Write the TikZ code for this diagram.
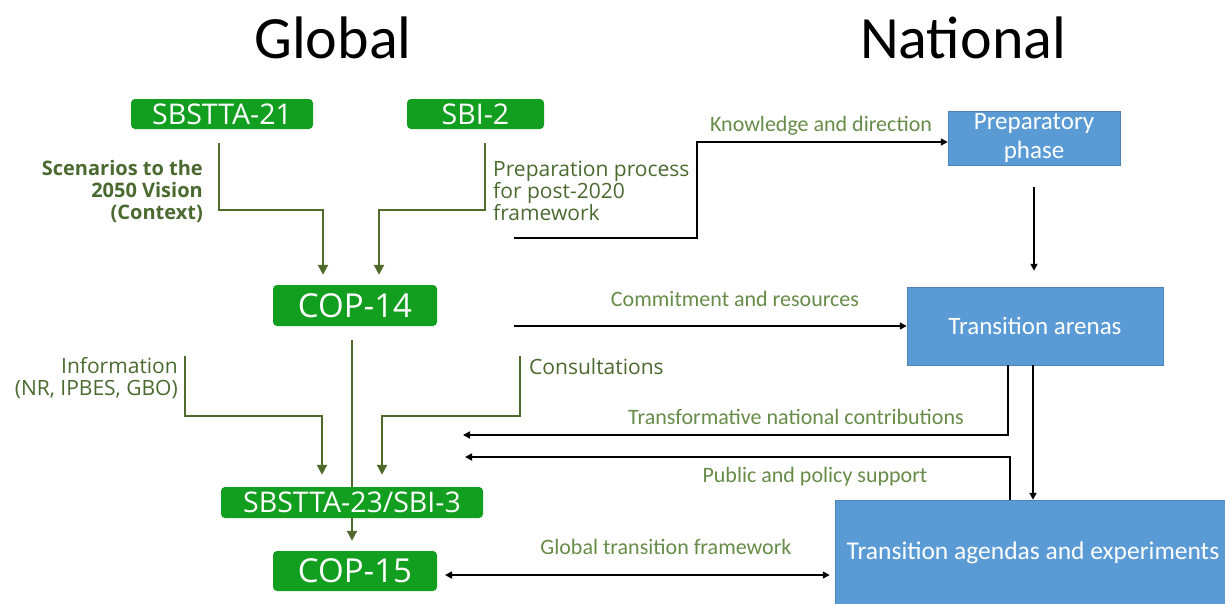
\documentclass[tikz,border=0pt]{standalone}
\usepackage{fontspec}
\setmainfont{Carlito}
\newfontfamily\segoe{Open Sans}
\usetikzlibrary{arrows.meta}
\definecolor{boxgreen}{HTML}{129E1F}
\definecolor{linegreen}{HTML}{4E6B2C}
\definecolor{labelgreen}{HTML}{4A6A30}
\definecolor{flowgreen}{HTML}{668C48}
\definecolor{boxblue}{HTML}{5B9BD5}
\tikzset{
  gbox/.style={fill=boxgreen, rounded corners=4pt, text=white, inner sep=0pt},
  bbox/.style={fill=boxblue, draw=boxblue!85!black, line width=0.5pt, text=white, inner sep=0pt, align=center},
  gline/.style={draw=linegreen, line width=2pt},
  garrow/.style={gline, -{Triangle[length=10pt,width=10pt]}},
  barrow/.style={draw=black, line width=1.6pt, -{Triangle[length=7pt,width=7pt]}},
  glabel/.style={text=labelgreen, inner sep=0pt, font=\segoe\fontsize{21}{22}\selectfont},
  flabel/.style={text=flowgreen, inner sep=0pt, font=\fontsize{22}{22}\selectfont},
  boxtext/.style={font=\segoe\fontsize{28.5}{28.5}\selectfont},
  boxtextbig/.style={font=\segoe\fontsize{33}{33}\selectfont},
  title/.style={inner sep=0pt, font=\fontsize{60}{60}\selectfont}
}
\begin{document}
\begin{tikzpicture}[x=1pt,y=-1pt]
\useasboundingbox (0,0) rectangle (1225,603);

% headings
\node[title] (tglobal) at (333,38) {Global};
\node[title] (tnational) at (963,38) {National};

% global process boxes
\node[gbox, boxtext, minimum width=182, minimum height=30] (s21) at (222,114) {SBSTTA-21};
\node[gbox, boxtext, minimum width=137, minimum height=30] (sbi2) at (475.5,114) {SBI-2};
\node[gbox, boxtextbig, minimum width=164, minimum height=41] (cop14) at (355,305.5) {COP-14};
\node[gbox, boxtext, minimum width=262, minimum height=31] (s23) at (352,502.5) {SBSTTA-23/SBI-3};
\node[gbox, boxtextbig, minimum width=164, minimum height=40] (cop15) at (355,571) {COP-15};

% national process boxes
\node[bbox, minimum width=172, minimum height=54, font=\fontsize{25}{29}\selectfont] (prep) at (1034,138) {Preparatory\\phase};
\node[bbox, minimum width=256, minimum height=78, font=\fontsize{25}{25}\selectfont] (arenas) at (1035,326) {Transition arenas};
\node[bbox, minimum width=396, minimum height=106, font=\fontsize{25.5}{25.5}\selectfont] (agendas) at (1033,553) {Transition agendas and experiments};

% green inputs to COP-14
\draw[garrow] ([xshift=-3pt,yshift=-14pt]s21.south) |- ([xshift=-32pt,yshift=75pt]cop14.north) -- ([xshift=-32pt,yshift=10pt]cop14.north);
\draw[garrow] ([xshift=9.5pt,yshift=-14pt]sbi2.south) |- ([xshift=24pt,yshift=75pt]cop14.north) -- ([xshift=24pt,yshift=10pt]cop14.north);
\node[glabel, font=\segoe\bfseries\fontsize{20}{22}\selectfont, align=right, anchor=east] (lscen) at (203,191) {Scenarios to the\\2050 Vision\\(Context)};
\node[glabel, align=left, anchor=west] (lprep) at (493,191) {Preparation process\\for post-2020\\framework};

% COP-14 down to SBSTTA-23 and COP-15
\draw[gline] ([xshift=-3pt,yshift=-14pt]cop14.south) -- (s23.north);
\draw[garrow] (s23.south) -- ([yshift=10pt]s23.south |- cop15.north);

% green inputs to SBSTTA-23
\coordinate (infotop) at (185,356);
\coordinate (constop) at (520,356);
\draw[garrow] (infotop) |- ([xshift=-30pt,yshift=71pt]s23.north) -- ([xshift=-30pt,yshift=12pt]s23.north);
\draw[garrow] (constop) |- ([xshift=30pt,yshift=71pt]s23.north) -- ([xshift=30pt,yshift=12pt]s23.north);
\node[glabel, align=right, anchor=east] (linfo) at (178,378) {Information\\(NR, IPBES, GBO)};
\node[glabel, anchor=west] (lcons) at (529,367) {Consultations};

% global to national flows
\coordinate (kstart) at (514,238);
\draw[barrow] (kstart) -- (697,238) |- ([yshift=-4pt]prep.west);
\node[flabel] (lknow) at (821,126) {Knowledge and direction};

\coordinate (cstart) at (514,326);
\draw[barrow] (cstart) -- (arenas.west);
\node[flabel] (lcomm) at (735,299) {Commitment and resources};

\draw[barrow] ([yshift=-22pt]prep.south) -- ([yshift=16pt]prep.south |- arenas.north);

% national to global flows
\coordinate (tend) at (463,435);
\draw[barrow] ([xshift=-27pt]arenas.south) |- (tend);
\node[flabel] (ltrans) at (796,417) {Transformative national contributions};

\draw[barrow] ([xshift=-2pt]arenas.south) -- ([xshift=-2pt]arenas.south |- agendas.north);

\coordinate (pend) at (465,457);
\draw[barrow] ([xshift=-23pt]agendas.north) |- (pend);
\node[flabel] (lpub) at (815,477) {Public and policy support};

\coordinate (gleft) at (445,575);
\draw[barrow, {Triangle[length=7pt,width=7pt]}-{Triangle[length=7pt,width=7pt]}, shorten >=5pt] (gleft) -- (gleft -| agendas.west);
\node[flabel] (lglob) at (666,547) {Global transition framework};
\end{tikzpicture}
\end{document}
